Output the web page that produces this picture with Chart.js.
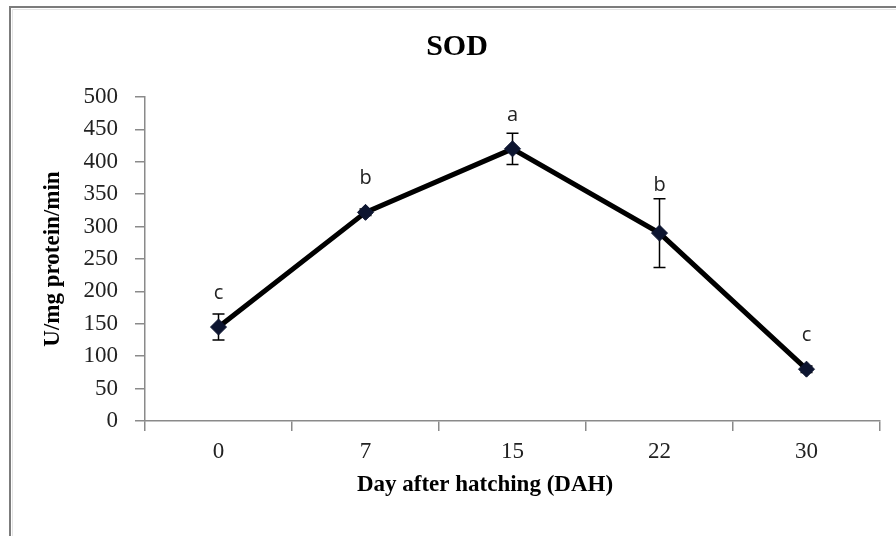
<!DOCTYPE html>
<html>
<head>
<meta charset="utf-8">
<script src="https://cdn.jsdelivr.net/npm/chart.js@4.4.1/dist/chart.umd.min.js"></script>
<style>
  html, body { margin: 0; padding: 0; background: #ffffff; }
  #wrap { position: relative; width: 896px; height: 536px; }
  canvas { display: block; }
</style>
</head>
<body>
<div id="wrap"><canvas id="c" width="896" height="536"></canvas></div>
<script>
// ---- data ----
const days = ['0', '7', '15', '22', '30'];
const sodMean = [145, 322, 420, 290, 80];
const sodErr = [20, 5, 24, 53, 5];
const groupLetters = ['c', 'b', 'a', 'b', 'c'];
const chartTitle = 'SOD';
const yTitle = 'U/mg protein/min';
const xTitle = 'Day after hatching (DAH)';

const serif = "'Liberation Serif', 'Times New Roman', serif";
const sans = "'Open Sans', 'Liberation Sans', sans-serif";

const framePlugin = {
  id: 'frame',
  beforeDraw(chart) {
    const ctx = chart.ctx;
    ctx.save();
    ctx.fillStyle = '#ffffff';
    ctx.fillRect(0, 0, chart.width, chart.height);
    ctx.strokeStyle = '#7c7c7c';
    ctx.lineWidth = 2;
    ctx.beginPath();
    ctx.moveTo(10, chart.height);
    ctx.lineTo(10, 7);
    ctx.lineTo(chart.width, 7);
    ctx.stroke();
    ctx.strokeStyle = '#e4e4e4';
    ctx.lineWidth = 1;
    ctx.beginPath();
    ctx.moveTo(12.5, chart.height);
    ctx.lineTo(12.5, 9.5);
    ctx.lineTo(chart.width, 9.5);
    ctx.stroke();
    ctx.restore();
  }
};

const errorBarPlugin = {
  id: 'errorBars',
  beforeDatasetsDraw(chart) {
    const ctx = chart.ctx;
    const xs = chart.scales.x, ys = chart.scales.y;
    ctx.save();
    ctx.strokeStyle = '#000000';
    ctx.lineWidth = 1.5;
    sodMean.forEach((v, i) => {
      const x = xs.getPixelForValue(i);
      const yt = ys.getPixelForValue(v + sodErr[i]);
      const yb = ys.getPixelForValue(v - sodErr[i]);
      ctx.beginPath();
      ctx.moveTo(x, yt); ctx.lineTo(x, yb);
      ctx.moveTo(x - 6, yt); ctx.lineTo(x + 6, yt);
      ctx.moveTo(x - 6, yb); ctx.lineTo(x + 6, yb);
      ctx.stroke();
    });
    ctx.restore();
  },
  afterDatasetsDraw(chart) {
    const ctx = chart.ctx;
    const xs = chart.scales.x, ys = chart.scales.y;
    ctx.save();
    ctx.fillStyle = '#222222';
    ctx.font = '20px ' + sans;
    ctx.textAlign = 'center';
    ctx.textBaseline = 'middle';
    groupLetters.forEach((t, i) => {
      const x = xs.getPixelForValue(i);
      const yp = ys.getPixelForValue(sodMean[i]);
      const yt = ys.getPixelForValue(sodMean[i] + sodErr[i]);
      ctx.fillText(t, x, Math.min(yp - 34, yt - 13));
    });
    // x-axis title
    ctx.fillStyle = '#000000';
    ctx.font = 'bold 23px ' + serif;
    ctx.fillText(xTitle, 485, 485);
    ctx.restore();
  }
};

new Chart(document.getElementById('c'), {
  type: 'line',
  data: {
    labels: days,
    datasets: [{
      data: sodMean,
      borderColor: '#000000',
      borderWidth: 5,
      pointStyle: 'rectRot',
      pointRadius: 8,
      pointHoverRadius: 8,
      pointBackgroundColor: '#0d1530',
      pointBorderColor: '#0d1530',
      pointBorderWidth: 1,
      tension: 0,
      fill: false
    }]
  },
  options: {
    responsive: false,
    animation: false,
    devicePixelRatio: 1,
    layout: { padding: { left: 34, right: 16, top: 0, bottom: 0 } },
    plugins: {
      legend: { display: false },
      tooltip: { enabled: false },
      title: {
        display: true,
        text: chartTitle,
        color: '#000000',
        font: { family: serif, size: 30, weight: 'bold', lineHeight: 1.2 },
        padding: { top: 29, bottom: 32 }
      }
    },
    scales: {
      x: {
        type: 'category',
        offset: true,
        afterFit(s) { s.height = 115; },
        grid: {
          offset: true,
          drawOnChartArea: false,
          drawTicks: true,
          tickLength: 10,
          color: '#8a8a8a',
          lineWidth: 1.5
        },
        border: { display: true, color: '#8a8a8a', width: 1.5 },
        ticks: {
          color: '#222222',
          padding: 7,
          maxRotation: 0,
          font: { family: serif, size: 23 }
        }
      },
      y: {
        min: 0,
        max: 500,
        afterFit(s) { s.width = 111; },
        grid: {
          drawOnChartArea: false,
          drawTicks: true,
          tickLength: 10,
          color: '#8a8a8a',
          lineWidth: 1.5
        },
        border: { display: true, color: '#8a8a8a', width: 1.5 },
        ticks: {
          stepSize: 50,
          color: '#222222',
          padding: 17,
          font: { family: serif, size: 23 }
        },
        title: {
          display: true,
          text: yTitle,
          color: '#000000',
          font: { family: serif, size: 23, weight: 'bold', lineHeight: 1.2 },
          padding: { top: 5, bottom: 0 }
        }
      }
    }
  },
  plugins: [framePlugin, errorBarPlugin]
});
</script>
</body>
</html>
